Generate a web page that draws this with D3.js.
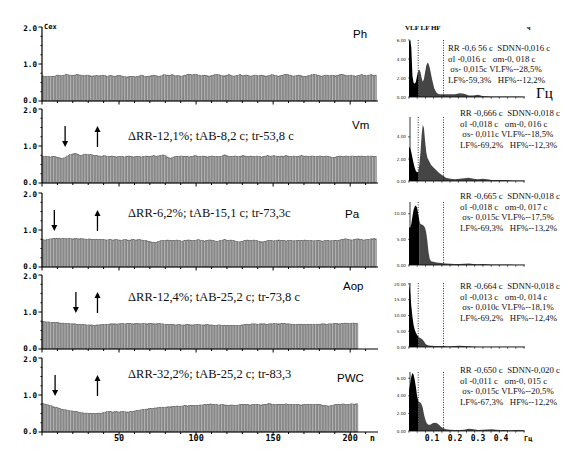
<!DOCTYPE html>
<html><head><meta charset="utf-8">
<script src="https://cdn.jsdelivr.net/npm/d3@7"></script>
<style>body{margin:0;background:#fff}svg{display:block}</style>
</head><body><svg id="c" width="568" height="451"></svg>
<script>
// ---------------- DATA ----------------
const panelNames = ["Ph","Vm","Pa","Aop","PWC"];
const rrPh = [0.68,0.67,0.67,0.66,0.66,0.67,0.66,0.66,0.67,0.69,0.70,0.69,0.68,0.69,0.70,0.71,0.71,0.70,0.70,0.69,
0.69,0.70,0.72,0.71,0.70,0.70,0.69,0.68,0.69,0.70,0.69,0.68,0.67,0.68,0.68,0.69,0.68,0.68,0.69,0.70,
0.69,0.68,0.67,0.68,0.69,0.68,0.67,0.67,0.68,0.69,0.69,0.68,0.66,0.66,0.65,0.65,0.66,0.66,0.67,0.66,
0.65,0.66,0.67,0.68,0.70,0.69,0.67,0.66,0.66,0.67,0.68,0.69,0.70,0.69,0.68,0.67,0.67,0.68,0.70,0.71,
0.70,0.70,0.69,0.70,0.71,0.69,0.68,0.68,0.69,0.68,0.67,0.68,0.69,0.70,0.71,0.72,0.71,0.70,0.71,0.72,
0.71,0.70,0.69,0.68,0.69,0.70,0.69,0.68,0.67,0.68,0.69,0.70,0.71,0.72,0.71,0.70,0.69,0.68,0.68,0.69,
0.70,0.71,0.69,0.68,0.67,0.68,0.69,0.70,0.71,0.69,0.68,0.69,0.70,0.69,0.68,0.67,0.68,0.69,0.70,0.69,
0.68,0.69,0.70,0.69,0.68,0.67,0.68,0.69,0.70,0.71,0.70,0.69,0.68,0.67,0.68,0.69,0.70,0.71,0.72,0.71,
0.70,0.69,0.68,0.67,0.68,0.69,0.70,0.69,0.68,0.67,0.66,0.67,0.68,0.69,0.70,0.71,0.72,0.71,0.70,0.69,
0.68,0.67,0.68,0.69,0.70,0.69,0.68,0.69,0.70,0.69,0.68,0.69,0.70,0.71,0.72,0.71,0.70,0.69,0.68,0.69,
0.70,0.69,0.68,0.67,0.68,0.69,0.70,0.71,0.70,0.69,0.68,0.69,0.70,0.71,0.70,0.69,0.70];
const rrVm = [0.72,0.71,0.71,0.72,0.71,0.70,0.71,0.72,0.71,0.70,0.69,0.68,0.67,0.66,0.68,0.70,0.73,0.75,0.77,0.78,
0.79,0.80,0.79,0.77,0.75,0.74,0.76,0.78,0.78,0.77,0.76,0.77,0.76,0.75,0.74,0.74,0.73,0.73,0.72,0.73,
0.74,0.73,0.72,0.71,0.72,0.73,0.72,0.71,0.70,0.71,0.72,0.72,0.71,0.70,0.71,0.72,0.73,0.72,0.71,0.70,
0.71,0.72,0.72,0.71,0.70,0.71,0.72,0.73,0.72,0.71,0.72,0.73,0.74,0.73,0.72,0.73,0.74,0.75,0.76,0.75,
0.73,0.70,0.68,0.67,0.68,0.70,0.72,0.72,0.71,0.72,0.73,0.72,0.71,0.72,0.71,0.70,0.71,0.72,0.73,0.74,
0.73,0.72,0.71,0.72,0.73,0.72,0.71,0.70,0.71,0.72,0.73,0.72,0.71,0.72,0.72,0.71,0.72,0.74,0.76,0.75,
0.73,0.72,0.72,0.71,0.72,0.73,0.72,0.71,0.72,0.73,0.74,0.73,0.72,0.71,0.72,0.73,0.72,0.71,0.72,0.73,
0.72,0.71,0.70,0.71,0.72,0.73,0.74,0.73,0.72,0.73,0.74,0.73,0.72,0.71,0.72,0.73,0.72,0.73,0.74,0.73,
0.72,0.71,0.72,0.73,0.72,0.71,0.72,0.73,0.74,0.73,0.72,0.73,0.72,0.71,0.72,0.73,0.72,0.71,0.72,0.72,
0.73,0.72,0.71,0.72,0.73,0.72,0.71,0.70,0.69,0.69,0.70,0.71,0.72,0.73,0.72,0.71,0.72,0.73,0.72,0.71,
0.72,0.73,0.72,0.71,0.72,0.73,0.72,0.73,0.72,0.71,0.72,0.73,0.72,0.73,0.72,0.72,0.71];
const rrPa = [0.74,0.73,0.73,0.74,0.75,0.76,0.76,0.77,0.77,0.77,0.77,0.77,0.76,0.77,0.77,0.77,0.76,0.77,0.77,0.76,
0.76,0.77,0.77,0.76,0.76,0.77,0.76,0.76,0.75,0.75,0.76,0.75,0.75,0.74,0.75,0.75,0.74,0.74,0.75,0.74,
0.74,0.73,0.73,0.74,0.74,0.73,0.73,0.74,0.74,0.73,0.73,0.72,0.73,0.74,0.74,0.73,0.72,0.73,0.74,0.74,
0.73,0.73,0.74,0.74,0.73,0.72,0.72,0.71,0.70,0.69,0.68,0.67,0.66,0.66,0.67,0.69,0.70,0.71,0.72,0.72,
0.72,0.73,0.72,0.72,0.71,0.72,0.72,0.73,0.72,0.71,0.70,0.70,0.71,0.72,0.73,0.73,0.72,0.71,0.71,0.72,
0.73,0.74,0.73,0.72,0.71,0.70,0.71,0.72,0.73,0.73,0.72,0.71,0.70,0.69,0.70,0.71,0.72,0.73,0.74,0.73,
0.72,0.72,0.73,0.72,0.71,0.70,0.69,0.68,0.68,0.69,0.70,0.71,0.72,0.73,0.72,0.71,0.72,0.73,0.72,0.71,
0.70,0.69,0.68,0.68,0.69,0.70,0.71,0.72,0.72,0.71,0.70,0.71,0.72,0.73,0.72,0.71,0.72,0.71,0.70,0.71,
0.72,0.72,0.71,0.70,0.71,0.72,0.72,0.71,0.71,0.72,0.73,0.72,0.71,0.71,0.72,0.71,0.70,0.71,0.72,0.72,
0.71,0.70,0.70,0.71,0.72,0.72,0.71,0.70,0.71,0.72,0.72,0.71,0.72,0.73,0.74,0.75,0.76,0.76,0.75,0.74,
0.73,0.73,0.74,0.75,0.76,0.76,0.75,0.74,0.73,0.73,0.74,0.75,0.75,0.76,0.76,0.77,0.76];
const rrAop = [0.74,0.74,0.73,0.73,0.73,0.72,0.72,0.72,0.71,0.71,0.71,0.70,0.70,0.70,0.69,0.69,0.69,0.69,0.68,0.68,
0.68,0.68,0.67,0.67,0.67,0.66,0.66,0.66,0.65,0.65,0.65,0.65,0.65,0.64,0.64,0.65,0.65,0.65,0.66,0.66,
0.66,0.67,0.67,0.67,0.68,0.68,0.68,0.68,0.67,0.68,0.68,0.69,0.69,0.68,0.68,0.69,0.69,0.69,0.68,0.68,
0.69,0.69,0.69,0.68,0.68,0.69,0.69,0.68,0.68,0.69,0.69,0.69,0.68,0.68,0.68,0.69,0.69,0.68,0.68,0.67,
0.67,0.67,0.66,0.66,0.66,0.66,0.65,0.65,0.66,0.66,0.65,0.65,0.65,0.66,0.66,0.66,0.65,0.65,0.65,0.66,
0.66,0.66,0.66,0.65,0.65,0.65,0.66,0.66,0.65,0.65,0.65,0.64,0.64,0.64,0.65,0.65,0.64,0.64,0.64,0.63,
0.63,0.63,0.64,0.64,0.64,0.63,0.63,0.63,0.64,0.65,0.65,0.66,0.66,0.67,0.67,0.67,0.68,0.68,0.68,0.67,
0.67,0.68,0.68,0.68,0.68,0.67,0.67,0.68,0.68,0.68,0.69,0.69,0.68,0.68,0.68,0.69,0.69,0.69,0.68,0.68,
0.68,0.67,0.67,0.67,0.66,0.66,0.66,0.67,0.67,0.67,0.66,0.66,0.67,0.67,0.67,0.66,0.66,0.66,0.67,0.67,
0.67,0.68,0.68,0.68,0.67,0.67,0.68,0.68,0.68,0.69,0.69,0.69,0.68,0.68,0.69,0.69,0.70,0.70,0.69,0.69,
0.69,0.70,0.70,0.69,0.69];
const rrPWC = [0.77,0.76,0.75,0.74,0.72,0.71,0.70,0.68,0.67,0.66,0.65,0.63,0.62,0.61,0.60,0.60,0.59,0.58,0.57,0.57,
0.56,0.56,0.55,0.54,0.53,0.52,0.52,0.51,0.51,0.51,0.50,0.50,0.50,0.50,0.50,0.50,0.51,0.51,0.51,0.52,
0.53,0.54,0.55,0.55,0.55,0.54,0.54,0.55,0.55,0.54,0.54,0.55,0.55,0.55,0.54,0.54,0.54,0.55,0.55,0.56,
0.57,0.58,0.58,0.59,0.60,0.61,0.61,0.62,0.62,0.63,0.63,0.64,0.64,0.65,0.65,0.66,0.66,0.66,0.67,0.67,
0.67,0.68,0.68,0.68,0.69,0.69,0.69,0.70,0.70,0.69,0.70,0.70,0.71,0.71,0.70,0.71,0.71,0.72,0.71,0.72,
0.72,0.72,0.73,0.73,0.73,0.74,0.74,0.75,0.75,0.76,0.75,0.75,0.74,0.74,0.73,0.73,0.74,0.74,0.73,0.73,
0.72,0.72,0.73,0.73,0.72,0.72,0.72,0.73,0.74,0.74,0.75,0.75,0.74,0.74,0.73,0.73,0.74,0.75,0.75,0.74,
0.74,0.73,0.73,0.74,0.74,0.75,0.76,0.77,0.76,0.75,0.74,0.74,0.75,0.75,0.74,0.74,0.75,0.75,0.76,0.75,
0.75,0.74,0.74,0.75,0.75,0.74,0.74,0.73,0.73,0.74,0.74,0.75,0.75,0.74,0.74,0.75,0.75,0.75,0.74,0.74,
0.74,0.73,0.72,0.71,0.71,0.70,0.70,0.71,0.72,0.73,0.74,0.75,0.74,0.74,0.75,0.76,0.75,0.74,0.74,0.75,
0.76,0.76,0.75,0.76,0.76];
const rrSeries = [rrPh, rrVm, rrPa, rrAop, rrPWC];

const annotations = [null, "ΔRR-12,1%; tAB-8,2 c; tr-53,8 c", "ΔRR-6,2%; tAB-15,1 c; tr-73,3c",
  "ΔRR-12,4%; tAB-25,2 c; tr-73,8 c", "ΔRR-32,2%; tAB-25,2 c; tr-83,3"];
const arrowDownN = [null, 15, 8, 22, 8.5];
const arrowUpN = [null, 36, 36, 36, 36];

const rrYTicks = [0, 1, 2];
const rrYTickLabels = ["0.0", "1.0", "2.0"];
const rrXTicks = [50, 100, 150, 200];

// spectra (power vs frequency, Hz)
const freqs = [0,0.005,0.01,0.015,0.02,0.025,0.03,0.035,0.04,0.045,0.05,0.055,0.06,0.065,0.07,0.075,0.08,0.085,0.09,0.095,
  0.1,0.11,0.12,0.13,0.14,0.15,0.16,0.18,0.2,0.22,0.24,0.26,0.28,0.3,0.32,0.34,0.36,0.38,0.4,0.42,0.44,0.46,0.48,0.5];
const spPh = [5.9,5.9,5.2,2.2,1.5,1.4,1.6,2.2,2.7,2.9,2.6,2.0,1.6,1.9,2.6,3.3,3.6,3.5,3.1,2.5,
  1.9,0.9,0.45,0.3,0.3,0.3,0.3,0.3,0.3,0.4,0.35,0.15,0.15,0.25,0.1,0.08,0.06,0.05,0.05,0.05,0.04,0.04,0.04,0.03];
const spVm = [3.1,3.0,2.6,2.1,1.6,1.2,0.9,0.8,0.8,1.5,2.6,4.2,5.1,4.8,3.6,2.6,2.1,1.9,1.7,1.5,
  1.35,1.15,0.95,0.75,0.6,0.45,0.3,0.2,0.15,0.2,0.25,0.3,0.2,0.15,0.2,0.15,0.1,0.1,0.08,0.08,0.06,0.05,0.05,0.04];
const spPa = [7.4,7.2,8.0,9.5,10.8,11.4,11.6,11.2,10.0,8.6,8.0,7.9,7.8,7.6,7.2,6.3,4.6,2.5,1.2,0.8,
  0.7,0.6,0.5,0.45,0.4,0.35,0.3,0.25,0.2,0.2,0.25,0.3,0.2,0.15,0.2,0.15,0.1,0.1,0.1,0.08,0.08,0.06,0.06,0.05];
const spAop = [20.0,17.5,13.0,9.5,7.0,5.5,4.5,3.8,3.3,3.0,2.8,2.6,2.3,1.8,1.2,0.8,0.6,0.5,0.45,0.4,
  0.4,0.35,0.3,0.3,0.3,0.3,0.25,0.2,0.3,0.4,0.3,0.2,0.15,0.1,0.1,0.1,0.08,0.08,0.06,0.06,0.05,0.05,0.05,0.05];
const spPWC = [4.6,5.4,6.2,6.6,6.4,5.8,5.0,4.0,3.4,3.3,3.2,3.0,2.6,1.9,1.4,1.0,0.8,0.7,0.7,0.75,
  0.85,0.95,0.9,0.7,0.45,0.3,0.2,0.15,0.12,0.12,0.15,0.25,0.2,0.12,0.15,0.18,0.2,0.15,0.1,0.1,0.08,0.1,0.12,0.08];
const spectra = [spPh, spVm, spPa, spAop, spPWC];
const vlfEnd = [0.04, 0.04, 0.045, 0.04, 0.04];
const bandLines = [0.04, 0.15];
const spMax = [6.0, 5.8, 12.3, 20.3, 6.7];
const spYTicks = [[0,2,4,6],[0,2,4],[0,5,10],[0,5,10,15,20],[0,2,4,6]];
const spXTickLabels = ["0.1","0.2","0.3","0.4"];

const stats = [
 ["RR -0,6 56 c  SDNN-0,016 c","σl -0,016 c   σm-0, 018 c"," σs- 0,015c VLF%--28,5%","LF%-59,3%   HF%--12,2%"],
 ["RR -0,666 c  SDNN-0,018 c","σl -0,018 c   σm-0, 016 c"," σs- 0,011c VLF%--18,5%","LF%-69,2%   HF%--12,3%"],
 ["RR -0,665 c  SDNN-0,018 c","σl -0,018 c   σm-0, 017 c"," σs- 0,015c VLF%--17,5%","LF%-69,3%   HF%--13,2%"],
 ["RR -0,664 c  SDNN-0,018 c","σl -0,013 c   σm-0, 014 c"," σs- 0,010c VLF%--18,1%","LF%-69,2%   HF%--12,4%"],
 ["RR -0,650 c  SDNN-0,020 c","σl -0,011 c   σm-0, 015 c"," σs- 0,015c VLF%--20,5%","LF%-67,3%   HF%--12,2%"]
];

// ---------------- LAYOUT ----------------
const svg = d3.select("#c");
const rrBase = [101, 183, 267, 349, 432];
const rrH = 74;
const x = d3.scaleLinear().domain([0, 220]).range([42, 381]);
const labelPos = [[353,38],[352,129],[345,218],[343,290],[337,382]];
const annoY = [0, 140, 217, 301, 378];
const spBase = [97, 181, 265, 347, 431];
const spTop = [40, 117, 202, 283, 372];
const xs = d3.scaleLinear().domain([0, 0.5]).range([409, 524]);
const statX = [448, 460, 460, 460, 460];
const statY = [51, 116, 199, 289, 373];

const monoFont = "'DejaVu Sans Mono', monospace";
const serif = "'Liberation Serif', 'Times New Roman', serif";

rrSeries.forEach((data, p) => {
  const base = rrBase[p];
  const y = d3.scaleLinear().domain([0, 2]).range([base, base - rrH]);
  const g = svg.append("g");
  // bars
  g.selectAll("rect").data(data).enter().append("rect")
    .attr("x", (d, i) => x(i))
    .attr("width", (d, i) => x(i + 1) - x(i))
    .attr("y", d => y(d))
    .attr("height", d => base - y(d))
    .attr("fill", "#b2b2b2")
    .attr("stroke", "#6a6a6a")
    .attr("stroke-width", 0.5);
  // y axis
  g.append("line").attr("x1", 42).attr("x2", 42).attr("y1", y(2)).attr("y2", base)
    .attr("stroke", "#000").attr("stroke-width", 1.2);
  d3.range(0, 2.01, 0.25).forEach(v => {
    const major = rrYTicks.includes(v);
    g.append("line").attr("x1", major ? 38.5 : 40.5).attr("x2", 42)
      .attr("y1", y(v)).attr("y2", y(v)).attr("stroke", "#000").attr("stroke-width", 1);
  });
  const labOff = [1.5, 2.8, 4.2];
  rrYTicks.forEach((v, i) => {
    g.append("text").attr("x", 37).attr("y", y(v) + labOff[i]).attr("text-anchor", "end")
      .attr("font-family", monoFont).attr("font-weight", "bold").attr("font-size", 7.6)
      .text(rrYTickLabels[i]);
  });
  // x axis
  g.append("line").attr("x1", 42).attr("x2", 378).attr("y1", base).attr("y2", base)
    .attr("stroke", "#000").attr("stroke-width", 1.2);
  d3.range(0, 211, 10).forEach(v => {
    const major = v % 50 === 0;
    g.append("line").attr("x1", x(v)).attr("x2", x(v)).attr("y1", base)
      .attr("y2", base + (major ? 3.5 : 2)).attr("stroke", "#000").attr("stroke-width", 1);
  });
  // panel label
  g.append("text").attr("x", labelPos[p][0]).attr("y", labelPos[p][1])
    .attr("font-family", "'Liberation Sans', Arial, sans-serif").attr("font-size", 11.5)
    .text(panelNames[p]);
  if (annotations[p]) {
    g.append("text").attr("x", 128).attr("y", annoY[p])
      .attr("font-family", serif).attr("font-size", 12.5).attr("fill", "#111")
      .text(annotations[p]);
    // arrows
    const top = y(2) + 17, bot = y(2) + 38;
    const xd = x(arrowDownN[p]), xu = x(arrowUpN[p]);
    g.append("line").attr("x1", xd).attr("x2", xd).attr("y1", top).attr("y2", bot - 5)
      .attr("stroke", "#000").attr("stroke-width", 1.3);
    g.append("path").attr("d", `M${xd-3},${bot-6} L${xd+3},${bot-6} L${xd},${bot} Z`).attr("fill", "#000");
    g.append("line").attr("x1", xu).attr("x2", xu).attr("y1", top + 5).attr("y2", bot)
      .attr("stroke", "#000").attr("stroke-width", 1.3);
    g.append("path").attr("d", `M${xu-3},${top+6} L${xu+3},${top+6} L${xu},${top} Z`).attr("fill", "#000");
  }
});

// top-left unit label
svg.append("text").attr("x", 44).attr("y", 29).attr("font-family", monoFont)
  .attr("font-weight", "bold").attr("font-size", 7).text("Cex");
// bottom x labels
rrXTicks.forEach(v => {
  svg.append("text").attr("x", x(v)).attr("y", 441).attr("text-anchor", "middle")
    .attr("font-family", monoFont).attr("font-weight", "bold").attr("font-size", 8.5).text(String(v));
});
svg.append("text").attr("x", 370).attr("y", 441).attr("font-family", monoFont)
  .attr("font-weight", "bold").attr("font-size", 8).text("n");

// ---------------- SPECTRA ----------------
spectra.forEach((vals, p) => {
  const base = spBase[p];
  const ys = d3.scaleLinear().domain([0, spMax[p]]).range([base, spTop[p]]);
  const g = svg.append("g");
  const pts = freqs.map((f, i) => ({f, v: vals[i]}));
  const area = d3.area().x(d => xs(d.f)).y0(base).y1(d => ys(d.v));
  g.append("path").datum(pts.filter(d => d.f >= vlfEnd[p])).attr("d", area).attr("fill", "#454545");
  g.append("path").datum(pts.filter(d => d.f <= vlfEnd[p])).attr("d", area).attr("fill", "#000");
  // band dotted lines
  bandLines.forEach(b => {
    g.append("line").attr("x1", xs(b)).attr("x2", xs(b)).attr("y1", spTop[p]).attr("y2", base)
      .attr("stroke", "#000").attr("stroke-width", 0.8).attr("stroke-dasharray", "1,1.5");
  });
  // axes
  g.append("line").attr("x1", 410).attr("x2", 410).attr("y1", spTop[p]).attr("y2", base)
    .attr("stroke", "#000").attr("stroke-width", 0.8);
  g.append("line").attr("x1", 410).attr("x2", 525).attr("y1", base).attr("y2", base)
    .attr("stroke", "#000").attr("stroke-width", 0.8);
  d3.range(0, 15).forEach(i => {
    const xv = xs(i * 0.5 / 14);
    g.append("line").attr("x1", xv).attr("x2", xv).attr("y1", base).attr("y2", base + 1.8)
      .attr("stroke", "#000").attr("stroke-width", 0.6);
  });
  spYTicks[p].forEach(v => {
    g.append("line").attr("x1", 408).attr("x2", 410).attr("y1", ys(v)).attr("y2", ys(v))
      .attr("stroke", "#000").attr("stroke-width", 0.6);
    g.append("text").attr("x", 406).attr("y", ys(v) + 1.6).attr("text-anchor", "end")
      .attr("font-family", "'DejaVu Sans', sans-serif").attr("font-size", 4.2).attr("fill", "#222")
      .text(v.toFixed(2));
  });
  // stats text
  stats[p].forEach((line, k) => {
    g.append("text").attr("x", statX[p]).attr("y", statY[p] + k * 10.5)
      .attr("font-family", serif).attr("font-size", 8.8).attr("fill", "#111")
      .style("white-space", "pre").text(line);
  });
});

// extras top spectrum
svg.append("text").attr("x", 405).attr("y", 30).attr("font-family", serif)
  .attr("font-weight", "bold").attr("font-size", 7).text("VLF  LF HF");
svg.append("text").attr("x", 527).attr("y", 30).attr("font-family", serif)
  .attr("font-weight", "bold").attr("font-size", 6).text("ч");
svg.append("text").attr("x", 536).attr("y", 98).attr("font-family", serif)
  .attr("font-size", 15).text("Гц");
// bottom spectrum x labels
spXTickLabels.forEach(t => {
  svg.append("text").attr("x", xs(+t)).attr("y", 441).attr("text-anchor", "middle")
    .attr("font-family", monoFont).attr("font-weight", "bold").attr("font-size", 8).text(t);
});
svg.append("text").attr("x", 524).attr("y", 441).attr("font-family", monoFont)
  .attr("font-weight", "bold").attr("font-size", 7).text("Гц");
</script></body></html>
